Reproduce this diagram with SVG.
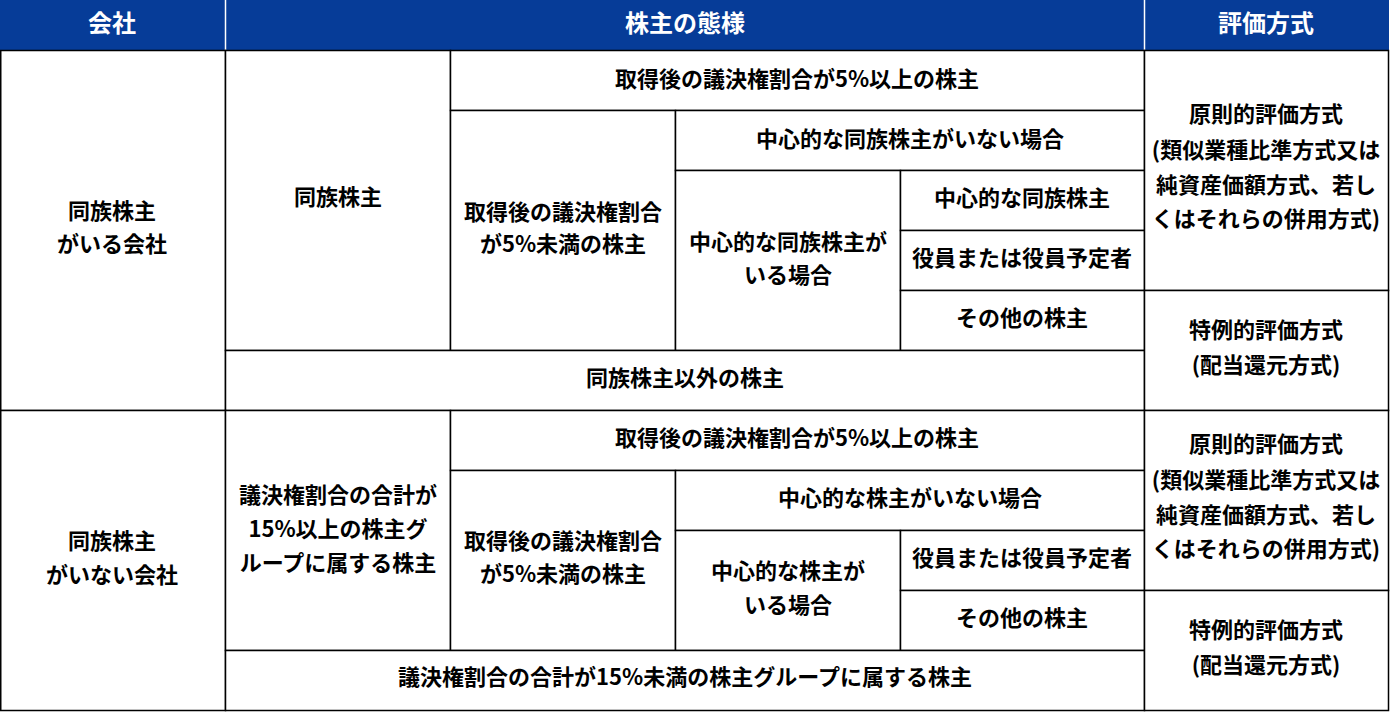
<svg xmlns="http://www.w3.org/2000/svg" width="1390" height="712" viewBox="0 0 1390 712">
<style>
.h{fill:#063c98}
.hs{stroke:#fff;stroke-width:1.5}
.c{fill:#fff;stroke:#000;stroke-width:1.5}
text{font-family:"Noto Sans CJK JP","Noto Sans",sans-serif;font-weight:bold;font-size:22px;fill:#000;text-anchor:middle;dominant-baseline:central}
.ht{fill:#fff;font-size:24px}
</style>
<rect x="0" y="0" width="1390" height="712" fill="#fff"/>
<g id="header">
<rect class="h" x="0" y="0" width="1389" height="50"/>
<line class="hs" x1="225.5" y1="0" x2="225.5" y2="50"/>
<line class="hs" x1="1144.5" y1="0" x2="1144.5" y2="50"/>
<text class="ht" x="112" y="21">会社</text>
<text class="ht" x="685" y="21">株主の態様</text>
<text class="ht" x="1266" y="21">評価方式</text>
</g>
<!-- Section 1 -->
<g id="s1-company"><rect class="c" x="0.75" y="50.5" width="224.75" height="360"/><text x="112" y="209">同族株主</text><text x="112" y="242">がいる会社</text></g>
<g id="s1-family"><rect class="c" x="225.5" y="50.5" width="225" height="300"/><text x="338" y="195">同族株主</text></g>
<g id="s1-over5"><rect class="c" x="450.5" y="50.5" width="694" height="60"/><text x="797" y="77">取得後の議決権割合が5%以上の株主</text></g>
<g id="s1-under5"><rect class="c" x="450.5" y="110.5" width="225" height="240"/><text x="563" y="210">取得後の議決権割合</text><text x="563" y="242">が5%未満の株主</text></g>
<g id="s1-nocentral"><rect class="c" x="675.5" y="110.5" width="469" height="60"/><text x="910" y="137">中心的な同族株主がいない場合</text></g>
<g id="s1-central"><rect class="c" x="675.5" y="170.5" width="225" height="180"/><text x="788" y="240">中心的な同族株主が</text><text x="788" y="273">いる場合</text></g>
<g id="s1-e1"><rect class="c" x="900.5" y="170.5" width="244" height="60"/><text x="1022" y="196">中心的な同族株主</text></g>
<g id="s1-e2"><rect class="c" x="900.5" y="230.5" width="244" height="60"/><text x="1022" y="256">役員または役員予定者</text></g>
<g id="s1-e3"><rect class="c" x="900.5" y="290.5" width="244" height="60"/><text x="1022" y="316">その他の株主</text></g>
<g id="s1-others"><rect class="c" x="225.5" y="350.5" width="919" height="60"/><text x="685" y="376">同族株主以外の株主</text></g>
<g id="s1-principle"><rect class="c" x="1144.5" y="50.5" width="244" height="240"/><text x="1266" y="112">原則的評価方式</text><text x="1266" y="148">(類似業種比準方式又は</text><text x="1266" y="183">純資産価額方式、若し</text><text x="1266" y="217">くはそれらの併用方式)</text></g>
<g id="s1-special"><rect class="c" x="1144.5" y="290.5" width="244" height="120"/><text x="1266" y="328">特例的評価方式</text><text x="1266" y="363">(配当還元方式)</text></g>
<!-- Section 2 -->
<g id="s2-company"><rect class="c" x="0.75" y="410.5" width="224.75" height="300"/><text x="112" y="539">同族株主</text><text x="112" y="573">がいない会社</text></g>
<g id="s2-group15"><rect class="c" x="225.5" y="410.5" width="225" height="240"/><text x="338" y="493">議決権割合の合計が</text><text x="338" y="527">15%以上の株主グ</text><text x="338" y="561">ループに属する株主</text></g>
<g id="s2-over5"><rect class="c" x="450.5" y="410.5" width="694" height="60"/><text x="797" y="436">取得後の議決権割合が5%以上の株主</text></g>
<g id="s2-under5"><rect class="c" x="450.5" y="470.5" width="225" height="180"/><text x="563" y="539">取得後の議決権割合</text><text x="563" y="572">が5%未満の株主</text></g>
<g id="s2-nocentral"><rect class="c" x="675.5" y="470.5" width="469" height="60"/><text x="910" y="496">中心的な株主がいない場合</text></g>
<g id="s2-central"><rect class="c" x="675.5" y="530.5" width="225" height="120"/><text x="788" y="569">中心的な株主が</text><text x="788" y="603">いる場合</text></g>
<g id="s2-e1"><rect class="c" x="900.5" y="530.5" width="244" height="60"/><text x="1022" y="556">役員または役員予定者</text></g>
<g id="s2-e2"><rect class="c" x="900.5" y="590.5" width="244" height="60"/><text x="1022" y="616">その他の株主</text></g>
<g id="s2-under15"><rect class="c" x="225.5" y="650.5" width="919" height="60"/><text x="685" y="675">議決権割合の合計が15%未満の株主グループに属する株主</text></g>
<g id="s2-principle"><rect class="c" x="1144.5" y="410.5" width="244" height="180"/><text x="1266" y="442">原則的評価方式</text><text x="1266" y="478">(類似業種比準方式又は</text><text x="1266" y="513">純資産価額方式、若し</text><text x="1266" y="547">くはそれらの併用方式)</text></g>
<g id="s2-special"><rect class="c" x="1144.5" y="590.5" width="244" height="120"/><text x="1266" y="628">特例的評価方式</text><text x="1266" y="663">(配当還元方式)</text></g>
<g id="connectors"></g>
</svg>
